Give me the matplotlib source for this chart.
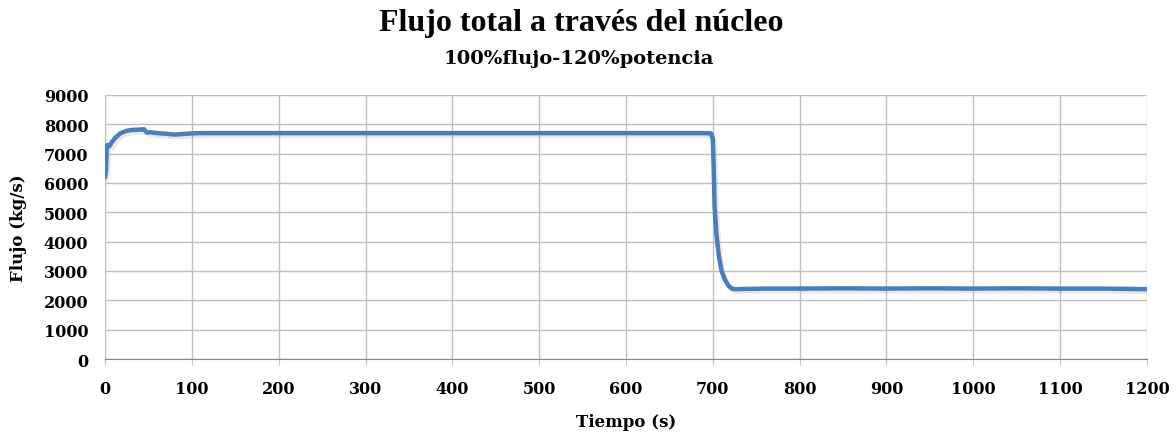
import numpy as np
import matplotlib.pyplot as plt
import matplotlib.patheffects as pe

# time (s) and total core flow (kg/s)
tiempo = [0, 1, 2, 3, 5, 8, 12, 18, 25, 32, 40, 45, 48, 52, 60, 70, 80, 90, 100, 110,
          130, 200, 300, 400, 500, 600, 690, 698, 700, 701, 702, 704, 707, 710, 714,
          718, 722, 726, 740, 760, 800, 850, 900, 950, 1000, 1050, 1100, 1150, 1200]
flujo = [6200, 6400, 7250, 7300, 7250, 7400, 7550, 7700, 7780, 7810, 7820, 7830, 7720,
         7730, 7700, 7680, 7650, 7670, 7690, 7700, 7700, 7700, 7700, 7700, 7700, 7700,
         7700, 7690, 7500, 6500, 5200, 4300, 3500, 3000, 2700, 2500, 2400, 2380, 2390,
         2400, 2400, 2410, 2400, 2410, 2400, 2410, 2400, 2400, 2380]

fig = plt.figure(figsize=(11.76, 4.35), dpi=100)
ax = fig.add_axes([0.0893, 0.1724, 0.886, 0.607])

serif = ['DejaVu Serif']
titlefont = ['Liberation Serif', 'DejaVu Serif']

ax.plot(tiempo, flujo, color='#4a7ebb', lw=3.2, solid_capstyle='round',
        path_effects=[pe.SimpleLineShadow(offset=(1.5, -2), alpha=0.18, shadow_color='#7f7f7f'),
                      pe.Normal()])

ax.set_xlim(0, 1200)
ax.set_ylim(0, 9000)
ax.set_xticks(np.arange(0, 1201, 100))
ax.set_yticks(np.arange(0, 9001, 1000))
ax.grid(True, color='#bfbfbf', lw=1)
ax.set_axisbelow(True)
for s in ['top', 'right', 'left']:
    ax.spines[s].set_visible(False)
ax.spines['bottom'].set_color('#868686')
ax.tick_params(axis='y', length=0, pad=12)
ax.tick_params(axis='x', length=4, color='#c8c8c8', pad=11)
for lab in ax.get_xticklabels() + ax.get_yticklabels():
    lab.set_fontfamily(serif)
    lab.set_fontweight('bold')
    lab.set_fontsize(11.5)

ax.set_xlabel('Tiempo (s)', family=serif, fontweight='bold', fontsize=12, va='center')
ax.set_ylabel('Flujo (kg/s)', family=serif, fontweight='bold', fontsize=12, va='center')
ax.xaxis.set_label_coords(0.5, -0.235)
ax.yaxis.set_label_coords(-0.0835, 0.5)

fig.text(581 / 1176, 1 - 24 / 435, 'Flujo total a través del núcleo', family=titlefont,
         fontweight='bold', fontsize=23, ha='center', va='center')
fig.text(579 / 1176, 1 - 59 / 435, '100%flujo-120%potencia', family=serif,
         fontweight='bold', fontsize=14, ha='center', va='center')

fig.savefig('out.png', dpi=100)
